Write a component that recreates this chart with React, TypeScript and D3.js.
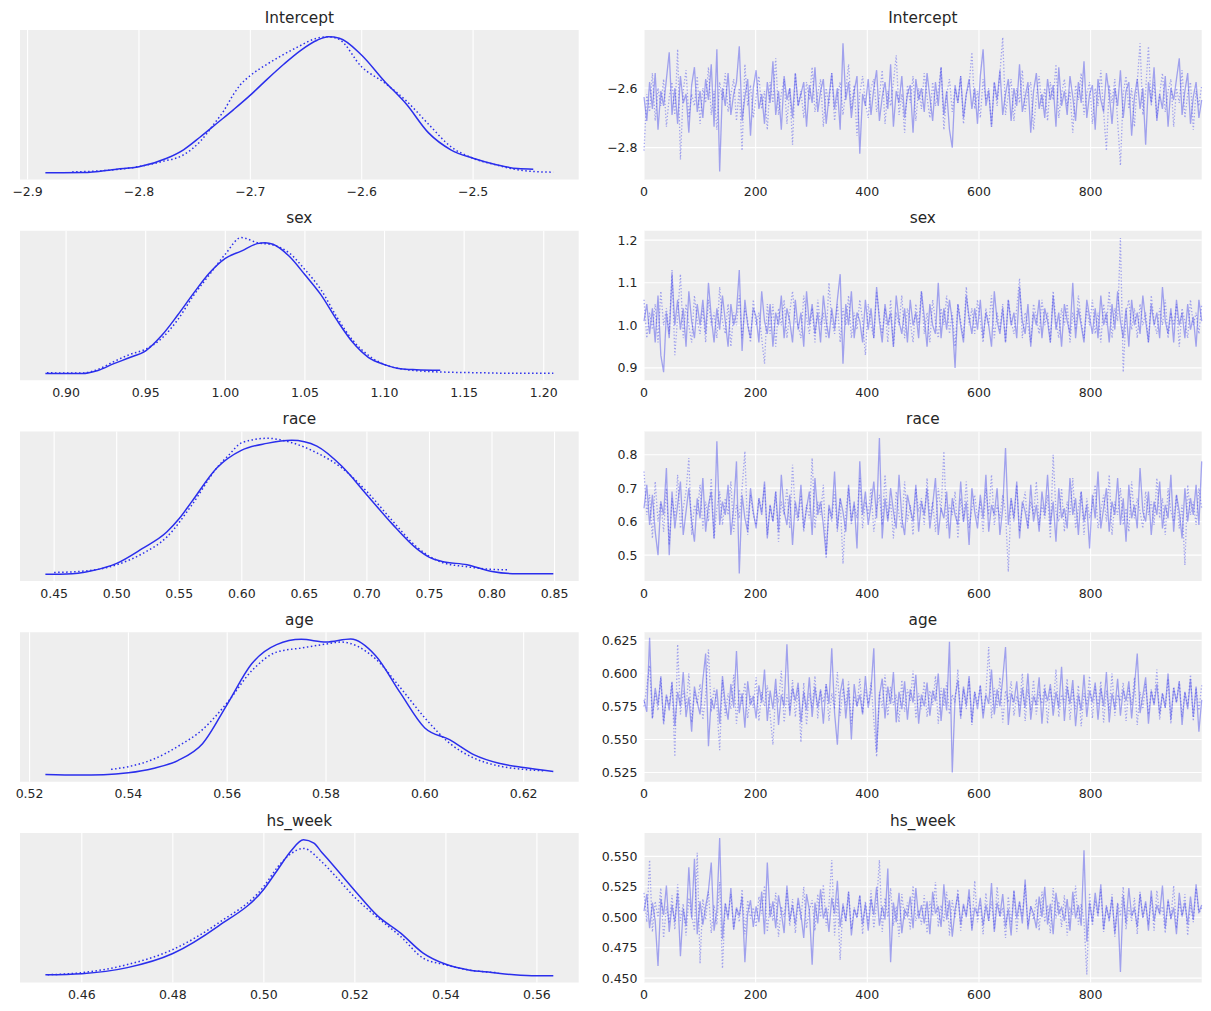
import React from "react";
import * as d3 from "d3";

// ---------- parameter names ----------
const paramNames = ["Intercept", "sex", "race", "age", "hs_week"];
const iterTicks = [0, 200, 400, 600, 800];

// ---------- KDE curves (x grid + relative density), chain 0 solid / chain 1 dotted ----------
const interceptKdeX1 = [-2.884, -2.85, -2.82, -2.8, -2.775, -2.76, -2.745, -2.73, -2.715, -2.7, -2.685, -2.67, -2.655, -2.64, -2.63, -2.62, -2.6, -2.58, -2.56, -2.54, -2.52, -2.5, -2.48, -2.46, -2.446];
const interceptKdeY1 = [0.01, 0.011, 0.036, 0.053, 0.115, 0.177, 0.27, 0.37, 0.47, 0.575, 0.69, 0.8, 0.9, 0.975, 1.0, 0.99, 0.866, 0.68, 0.51, 0.3, 0.177, 0.115, 0.07, 0.04, 0.036];
const interceptKdeX2 = [-2.86, -2.84, -2.82, -2.8, -2.78, -2.76, -2.745, -2.733, -2.724, -2.715, -2.709, -2.7, -2.685, -2.66, -2.64, -2.63, -2.62, -2.6, -2.58, -2.56, -2.54, -2.52, -2.5, -2.48, -2.46, -2.44, -2.428];
const interceptKdeY2 = [0.016, 0.021, 0.033, 0.055, 0.09, 0.14, 0.238, 0.361, 0.459, 0.583, 0.65, 0.718, 0.8, 0.915, 0.99, 1.0, 0.98, 0.78, 0.668, 0.533, 0.363, 0.2, 0.115, 0.068, 0.031, 0.016, 0.014];

const sexKdeX1 = [0.887, 0.9, 0.91, 0.92, 0.93, 0.94, 0.95, 0.96, 0.97, 0.98, 0.99, 1.0, 1.01, 1.02, 1.025, 1.03, 1.04, 1.05, 1.06, 1.07, 1.08, 1.09, 1.1, 1.11, 1.12, 1.135];
const sexKdeY1 = [0.017, 0.017, 0.017, 0.039, 0.088, 0.132, 0.181, 0.291, 0.438, 0.596, 0.743, 0.849, 0.902, 0.956, 0.963, 0.951, 0.866, 0.731, 0.587, 0.404, 0.242, 0.132, 0.081, 0.051, 0.044, 0.04];
const sexKdeX2 = [0.888, 0.9, 0.91, 0.92, 0.93, 0.94, 0.95, 0.96, 0.97, 0.98, 0.99, 1.0, 1.01, 1.02, 1.03, 1.04, 1.05, 1.06, 1.07, 1.08, 1.09, 1.1, 1.11, 1.12, 1.14, 1.16, 1.18, 1.206];
const sexKdeY2 = [0.022, 0.02, 0.02, 0.046, 0.103, 0.154, 0.193, 0.27, 0.404, 0.58, 0.731, 0.88, 1.0, 0.963, 0.946, 0.89, 0.768, 0.624, 0.426, 0.257, 0.147, 0.081, 0.051, 0.037, 0.026, 0.022, 0.018, 0.018];

const raceKdeX1 = [0.443, 0.46, 0.48, 0.5, 0.52, 0.54, 0.55, 0.56, 0.58, 0.6, 0.62, 0.64, 0.65, 0.66, 0.68, 0.7, 0.72, 0.74, 0.75, 0.76, 0.78, 0.8, 0.82, 0.849];
const raceKdeY1 = [0.011, 0.012, 0.036, 0.09, 0.195, 0.318, 0.416, 0.539, 0.784, 0.914, 0.963, 0.985, 0.975, 0.943, 0.796, 0.588, 0.379, 0.195, 0.134, 0.104, 0.08, 0.031, 0.014, 0.014];
const raceKdeX2 = [0.45, 0.47, 0.49, 0.5, 0.52, 0.54, 0.56, 0.58, 0.59, 0.6, 0.62, 0.64, 0.66, 0.68, 0.7, 0.72, 0.74, 0.76, 0.78, 0.8, 0.813];
const raceKdeY2 = [0.024, 0.031, 0.055, 0.08, 0.158, 0.281, 0.514, 0.784, 0.882, 0.968, 1.0, 0.968, 0.894, 0.784, 0.612, 0.404, 0.208, 0.097, 0.065, 0.046, 0.043];

const ageKdeX1 = [0.5232, 0.53, 0.535, 0.54, 0.545, 0.55, 0.555, 0.56, 0.565, 0.57, 0.575, 0.58, 0.585, 0.59, 0.595, 0.6, 0.605, 0.61, 0.615, 0.62, 0.626];
const ageKdeY1 = [0.004, 0.0, 0.002, 0.016, 0.048, 0.106, 0.23, 0.52, 0.82, 0.959, 0.998, 0.978, 1.0, 0.879, 0.606, 0.346, 0.26, 0.148, 0.086, 0.054, 0.026];
const ageKdeX2 = [0.5365, 0.54, 0.545, 0.55, 0.555, 0.56, 0.565, 0.57, 0.575, 0.58, 0.583, 0.59, 0.595, 0.6, 0.605, 0.61, 0.615, 0.62, 0.624];
const ageKdeY2 = [0.041, 0.061, 0.115, 0.21, 0.334, 0.532, 0.768, 0.904, 0.934, 0.963, 0.978, 0.855, 0.644, 0.42, 0.234, 0.123, 0.066, 0.041, 0.031];

const hsKdeX1 = [0.452, 0.46, 0.47, 0.48, 0.49, 0.5, 0.503, 0.506, 0.5087, 0.511, 0.5127, 0.5156, 0.52, 0.525, 0.53, 0.535, 0.54, 0.545, 0.55, 0.555, 0.56, 0.5636];
const hsKdeY1 = [0.016, 0.024, 0.068, 0.171, 0.371, 0.64, 0.78, 0.92, 1.0, 0.975, 0.91, 0.8, 0.629, 0.445, 0.321, 0.174, 0.092, 0.051, 0.033, 0.016, 0.009, 0.009];
const hsKdeX2 = [0.4525, 0.46, 0.47, 0.48, 0.49, 0.5, 0.503, 0.506, 0.5087, 0.5127, 0.5156, 0.52, 0.525, 0.53, 0.535, 0.54, 0.545, 0.5515];
const hsKdeY2 = [0.016, 0.031, 0.09, 0.2, 0.393, 0.66, 0.8, 0.9, 0.937, 0.84, 0.74, 0.58, 0.432, 0.297, 0.137, 0.088, 0.051, 0.031];

// ---------- traces (thinned draws over 1000 iterations) ----------
const interceptTrace1 = [
  -2.63,-2.71,-2.58,-2.67,-2.55,-2.74,-2.61,-2.66,-2.57,-2.48,-2.69,-2.60,-2.72,-2.56,-2.65,-2.62,-2.75,-2.59,-2.53,-2.68,
  -2.61,-2.70,-2.57,-2.64,-2.52,-2.73,-2.47,-2.88,-2.60,-2.66,-2.55,-2.69,-2.62,-2.58,-2.46,-2.71,-2.63,-2.57,-2.76,-2.60,
  -2.54,-2.67,-2.62,-2.72,-2.58,-2.65,-2.51,-2.69,-2.61,-2.74,-2.56,-2.64,-2.60,-2.70,-2.55,-2.66,-2.62,-2.58,-2.73,-2.59,
  -2.65,-2.53,-2.68,-2.61,-2.57,-2.72,-2.63,-2.55,-2.67,-2.60,-2.74,-2.45,-2.64,-2.58,-2.70,-2.61,-2.56,-2.82,-2.62,-2.66,
  -2.57,-2.69,-2.60,-2.54,-2.71,-2.63,-2.58,-2.67,-2.52,-2.73,-2.61,-2.65,-2.56,-2.70,-2.62,-2.59,-2.75,-2.57,-2.64,-2.60,
  -2.68,-2.55,-2.63,-2.71,-2.58,-2.66,-2.53,-2.69,-2.61,-2.74,-2.80,-2.59,-2.65,-2.56,-2.70,-2.62,-2.57,-2.67,-2.60,-2.72,
  -2.56,-2.47,-2.66,-2.61,-2.73,-2.58,-2.64,-2.54,-2.69,-2.62,-2.57,-2.71,-2.60,-2.66,-2.52,-2.68,-2.63,-2.58,-2.75,-2.61,
  -2.55,-2.67,-2.62,-2.70,-2.57,-2.64,-2.59,-2.73,-2.53,-2.66,-2.61,-2.69,-2.56,-2.63,-2.71,-2.58,-2.65,-2.51,-2.70,-2.62,
  -2.59,-2.74,-2.57,-2.64,-2.68,-2.55,-2.62,-2.72,-2.60,-2.66,-2.54,-2.70,-2.61,-2.58,-2.76,-2.63,-2.57,-2.67,-2.60,-2.79,
  -2.58,-2.65,-2.53,-2.71,-2.62,-2.67,-2.56,-2.73,-2.60,-2.64,-2.57,-2.50,-2.69,-2.61,-2.55,-2.72,-2.63,-2.58,-2.70,-2.64];
const interceptTrace2 = [
  -2.81,-2.62,-2.68,-2.55,-2.71,-2.60,-2.66,-2.57,-2.73,-2.63,-2.58,-2.69,-2.47,-2.84,-2.61,-2.54,-2.70,-2.62,-2.66,-2.56,
  -2.72,-2.60,-2.65,-2.53,-2.69,-2.61,-2.74,-2.58,-2.64,-2.55,-2.68,-2.62,-2.57,-2.71,-2.60,-2.81,-2.52,-2.66,-2.59,-2.70,
  -2.63,-2.56,-2.67,-2.61,-2.74,-2.58,-2.65,-2.50,-2.69,-2.62,-2.57,-2.72,-2.60,-2.79,-2.55,-2.66,-2.61,-2.70,-2.58,-2.64,
  -2.53,-2.68,-2.62,-2.57,-2.73,-2.60,-2.66,-2.55,-2.71,-2.63,-2.58,-2.69,-2.61,-2.52,-2.67,-2.59,-2.76,-2.62,-2.56,-2.65,
  -2.70,-2.60,-2.57,-2.68,-2.63,-2.54,-2.72,-2.61,-2.66,-2.58,-2.49,-2.69,-2.62,-2.75,-2.59,-2.65,-2.56,-2.71,-2.60,-2.67,
  -2.55,-2.63,-2.70,-2.58,-2.66,-2.61,-2.53,-2.74,-2.62,-2.57,-2.68,-2.60,-2.65,-2.56,-2.72,-2.62,-2.59,-2.48,-2.67,-2.61,
  -2.70,-2.57,-2.64,-2.60,-2.73,-2.58,-2.66,-2.55,-2.43,-2.69,-2.62,-2.57,-2.71,-2.60,-2.65,-2.54,-2.68,-2.61,-2.58,-2.74,
  -2.63,-2.56,-2.67,-2.60,-2.71,-2.58,-2.64,-2.52,-2.70,-2.62,-2.57,-2.66,-2.61,-2.75,-2.59,-2.64,-2.55,-2.69,-2.62,-2.58,
  -2.72,-2.60,-2.66,-2.54,-2.68,-2.81,-2.59,-2.65,-2.57,-2.71,-2.86,-2.62,-2.56,-2.67,-2.60,-2.73,-2.58,-2.45,-2.69,-2.61,
  -2.46,-2.66,-2.58,-2.70,-2.62,-2.55,-2.68,-2.61,-2.57,-2.73,-2.60,-2.65,-2.54,-2.70,-2.62,-2.58,-2.74,-2.61,-2.66,-2.59];

const sexTrace1 = [
  1.01,1.05,0.98,1.04,0.96,1.07,0.93,0.89,1.03,0.97,1.12,1.00,1.06,0.99,1.04,0.95,1.08,1.01,0.97,1.05,
  1.00,1.06,0.98,1.10,1.02,0.96,1.04,0.99,1.07,1.01,0.95,1.05,1.00,1.03,1.13,0.94,1.06,1.00,0.97,1.04,
  1.02,0.96,1.08,1.01,0.98,1.05,0.95,1.03,1.00,1.07,0.97,1.04,1.01,0.96,1.06,0.99,1.03,0.95,1.08,1.00,
  1.05,0.98,1.03,0.96,1.07,1.01,0.97,1.04,0.99,1.06,1.12,0.91,1.05,1.00,1.08,0.97,1.03,1.01,0.96,1.06,
  0.99,1.04,0.97,1.09,1.01,0.96,1.05,1.00,1.03,0.95,1.07,1.01,0.98,1.04,0.96,1.06,1.00,1.03,0.97,1.08,
  1.02,0.95,1.05,1.00,0.98,1.10,0.97,1.04,0.99,1.06,1.01,0.90,1.05,1.00,0.96,1.07,1.02,0.98,1.04,0.99,
  1.06,0.97,1.03,1.00,0.95,1.08,1.01,0.98,1.04,0.96,1.06,1.00,1.03,0.97,1.09,1.01,0.98,1.05,0.95,1.03,
  1.00,1.06,0.97,1.04,1.01,0.96,1.07,0.99,1.03,0.95,1.05,1.01,0.98,1.10,0.97,1.04,1.00,0.96,1.06,1.02,
  0.98,1.04,0.97,1.07,1.00,1.03,0.96,1.05,0.99,1.08,1.01,0.97,1.04,0.95,1.06,1.00,1.03,0.98,1.07,1.01,
  0.96,1.05,1.00,1.03,0.97,1.09,1.01,0.98,1.04,0.96,1.06,1.00,1.03,0.97,1.05,0.99,1.02,0.95,1.06,1.01];
const sexTrace2 = [
  1.06,0.97,1.03,0.99,1.05,0.96,1.08,1.00,1.04,0.98,1.13,0.93,1.02,1.12,0.97,1.05,1.00,0.96,1.07,1.01,
  0.98,1.04,0.96,1.06,1.00,1.03,0.97,1.09,1.01,0.98,1.05,0.95,1.03,1.00,1.07,0.97,1.04,1.01,0.96,1.06,
  1.00,1.03,0.97,0.91,1.05,0.98,1.05,0.95,1.04,1.00,1.06,0.97,1.03,1.08,1.01,1.00,0.97,1.07,1.02,0.98,
  1.04,0.96,1.06,1.00,1.03,0.97,1.10,1.01,0.98,1.05,0.96,1.04,1.00,1.07,0.97,1.03,0.99,1.06,1.01,0.93,
  1.05,1.00,0.97,1.08,1.02,0.98,1.04,0.96,1.06,0.95,1.03,1.00,1.07,0.97,1.04,1.01,0.96,1.05,1.00,1.08,
  0.98,1.03,0.96,1.06,1.01,0.97,1.04,1.00,1.07,0.98,1.03,0.95,1.05,1.01,0.97,1.09,1.00,1.04,0.98,1.06,
  1.01,0.96,1.04,1.00,1.07,0.97,1.03,0.99,1.05,0.96,1.06,1.01,0.98,1.04,1.11,0.97,1.03,1.00,0.96,1.05,
  1.02,0.98,1.06,1.00,1.03,0.96,1.08,1.01,0.97,1.04,1.00,1.05,0.96,1.03,0.99,1.07,1.01,0.97,1.04,1.00,
  1.06,0.98,1.03,0.96,1.05,1.00,1.08,0.97,1.04,1.01,1.205,0.89,1.03,1.06,0.99,1.04,0.97,1.05,1.00,1.03,
  0.96,1.07,1.01,0.98,1.04,1.00,1.06,0.97,1.03,1.00,1.05,0.95,1.04,1.01,0.97,1.06,1.00,1.03,0.98,1.05];

const raceTrace1 = [
  0.64,0.71,0.59,0.68,0.57,0.50,0.66,0.62,0.76,0.50,0.69,0.58,0.65,0.72,0.56,0.63,0.70,0.60,0.54,0.67,
  0.61,0.73,0.57,0.65,0.69,0.55,0.84,0.59,0.66,0.62,0.71,0.56,0.64,0.78,0.445,0.68,0.61,0.57,0.70,0.63,
  0.58,0.67,0.62,0.72,0.55,0.65,0.60,0.69,0.57,0.74,0.63,0.59,0.68,0.53,0.66,0.61,0.71,0.58,0.64,0.69,
  0.56,0.73,0.62,0.66,0.59,0.50,0.65,0.61,0.75,0.58,0.67,0.63,0.57,0.71,0.60,0.66,0.52,0.78,0.62,0.69,
  0.59,0.65,0.72,0.61,0.85,0.55,0.67,0.60,0.70,0.63,0.58,0.74,0.61,0.56,0.68,0.64,0.60,0.71,0.57,0.66,
  0.62,0.70,0.58,0.65,0.73,0.56,0.64,0.61,0.69,0.55,0.67,0.62,0.59,0.72,0.60,0.66,0.53,0.70,0.63,0.58,
  0.68,0.61,0.74,0.57,0.65,0.62,0.70,0.56,0.64,0.82,0.59,0.67,0.61,0.72,0.55,0.66,0.63,0.58,0.71,0.60,
  0.65,0.57,0.69,0.62,0.74,0.59,0.66,0.54,0.70,0.61,0.64,0.58,0.73,0.62,0.67,0.56,0.69,0.60,0.65,0.52,
  0.68,0.61,0.75,0.58,0.64,0.70,0.57,0.66,0.62,0.73,0.59,0.67,0.54,0.71,0.61,0.65,0.58,0.76,0.63,0.60,
  0.69,0.56,0.66,0.62,0.72,0.58,0.65,0.61,0.74,0.57,0.68,0.63,0.55,0.70,0.60,0.67,0.62,0.71,0.59,0.78];
const raceTrace2 = [
  0.75,0.62,0.68,0.55,0.72,0.60,0.66,0.57,0.70,0.53,0.67,0.61,0.74,0.58,0.64,0.69,0.79,0.56,0.65,0.62,
  0.71,0.58,0.66,0.60,0.73,0.55,0.64,0.69,0.59,0.67,0.62,0.72,0.57,0.65,0.61,0.70,0.81,0.56,0.68,0.62,
  0.59,0.67,0.63,0.71,0.56,0.65,0.60,0.69,0.54,0.66,0.62,0.70,0.58,0.77,0.63,0.60,0.68,0.57,0.65,0.61,
  0.79,0.58,0.66,0.62,0.71,0.49,0.64,0.60,0.69,0.57,0.67,0.474,0.63,0.70,0.59,0.65,0.61,0.73,0.58,0.66,
  0.62,0.70,0.57,0.64,0.68,0.59,0.74,0.61,0.66,0.55,0.69,0.62,0.58,0.72,0.60,0.65,0.56,0.70,0.63,0.67,
  0.59,0.73,0.61,0.66,0.57,0.70,0.63,0.81,0.58,0.65,0.62,0.69,0.55,0.67,0.60,0.72,0.58,0.64,0.68,0.61,
  0.66,0.57,0.70,0.62,0.74,0.59,0.65,0.61,0.68,0.63,0.45,0.67,0.60,0.71,0.57,0.64,0.69,0.58,0.66,0.62,
  0.72,0.59,0.65,0.61,0.68,0.55,0.80,0.63,0.60,0.70,0.57,0.66,0.62,0.73,0.58,0.64,0.69,0.56,0.67,0.61,
  0.65,0.71,0.58,0.63,0.68,0.60,0.74,0.56,0.66,0.62,0.70,0.59,0.64,0.57,0.72,0.61,0.67,0.63,0.58,0.69,
  0.62,0.66,0.59,0.73,0.61,0.67,0.56,0.70,0.63,0.60,0.68,0.58,0.65,0.47,0.71,0.62,0.66,0.59,0.70,0.64];

const ageTrace1 = [
  0.580,0.571,0.627,0.566,0.589,0.576,0.597,0.563,0.584,0.572,0.593,0.560,0.586,0.575,0.601,0.567,0.582,0.556,0.590,0.578,
  0.569,0.595,0.615,0.545,0.581,0.573,0.588,0.562,0.598,0.577,0.565,0.592,0.574,0.617,0.570,0.585,0.559,0.594,0.576,0.583,
  0.566,0.591,0.578,0.603,0.564,0.587,0.573,0.596,0.561,0.584,0.575,0.622,0.568,0.589,0.579,0.593,0.563,0.586,0.572,0.597,
  0.567,0.590,0.574,0.588,0.562,0.592,0.577,0.619,0.570,0.546,0.585,0.596,0.566,0.589,0.550,0.592,0.575,0.584,0.569,0.598,
  0.574,0.588,0.619,0.541,0.583,0.596,0.566,0.590,0.577,0.601,0.563,0.586,0.573,0.594,0.565,0.588,0.578,0.599,0.562,0.584,
  0.575,0.593,0.568,0.587,0.579,0.600,0.564,0.589,0.572,0.624,0.525,0.582,0.595,0.567,0.590,0.576,0.598,0.563,0.586,0.573,
  0.591,0.566,0.584,0.577,0.603,0.569,0.588,0.575,0.596,0.620,0.561,0.585,0.578,0.594,0.567,0.589,0.574,0.600,0.565,0.583,
  0.576,0.597,0.562,0.588,0.579,0.592,0.568,0.586,0.574,0.605,0.564,0.590,0.577,0.595,0.560,0.584,0.572,0.599,0.567,0.587,
  0.578,0.593,0.565,0.589,0.575,0.601,0.563,0.585,0.573,0.596,0.568,0.588,0.579,0.594,0.566,0.590,0.615,0.570,0.583,0.597,
  0.562,0.587,0.576,0.592,0.569,0.585,0.574,0.600,0.565,0.589,0.578,0.594,0.561,0.586,0.573,0.596,0.567,0.590,0.556,0.580];
const ageTrace2 = [
  0.575,0.590,0.606,0.566,0.585,0.572,0.598,0.561,0.583,0.576,0.594,0.537,0.622,0.569,0.587,0.574,0.600,0.563,0.586,0.577,
  0.592,0.565,0.584,0.618,0.571,0.589,0.576,0.542,0.595,0.568,0.585,0.573,0.599,0.562,0.588,0.577,0.593,0.566,0.583,0.574,
  0.597,0.564,0.586,0.575,0.591,0.569,0.546,0.588,0.578,0.602,0.563,0.584,0.572,0.595,0.567,0.589,0.548,0.593,0.561,0.585,
  0.574,0.598,0.566,0.587,0.578,0.592,0.564,0.585,0.573,0.601,0.568,0.589,0.576,0.594,0.562,0.583,0.575,0.596,0.570,0.588,
  0.577,0.593,0.565,0.537,0.586,0.574,0.599,0.568,0.590,0.576,0.584,0.563,0.595,0.571,0.588,0.579,0.602,0.566,0.585,0.573,
  0.594,0.567,0.587,0.576,0.598,0.562,0.589,0.575,0.593,0.569,0.584,0.578,0.603,0.565,0.588,0.573,0.596,0.561,0.586,0.577,
  0.591,0.570,0.585,0.620,0.566,0.589,0.574,0.597,0.563,0.587,0.578,0.594,0.568,0.583,0.575,0.600,0.564,0.588,0.572,0.595,
  0.569,0.586,0.577,0.592,0.562,0.589,0.574,0.603,0.567,0.584,0.578,0.596,0.565,0.588,0.573,0.591,0.560,0.585,0.576,0.598,
  0.566,0.590,0.575,0.594,0.563,0.587,0.572,0.600,0.568,0.584,0.579,0.593,0.564,0.589,0.576,0.597,0.561,0.586,0.573,0.592,
  0.569,0.588,0.577,0.603,0.565,0.585,0.574,0.596,0.562,0.590,0.578,0.594,0.567,0.586,0.575,0.599,0.564,0.589,0.572,0.591];

const hsTrace1 = [
  0.505,0.519,0.491,0.512,0.497,0.460,0.515,0.502,0.526,0.488,0.510,0.496,0.520,0.468,0.507,0.493,0.541,0.499,0.548,0.486,
  0.513,0.494,0.509,0.522,0.545,0.489,0.506,0.565,0.482,0.511,0.498,0.524,0.490,0.508,0.501,0.517,0.463,0.503,0.514,0.492,
  0.509,0.496,0.521,0.486,0.545,0.500,0.513,0.491,0.518,0.504,0.487,0.526,0.497,0.510,0.494,0.516,0.502,0.483,0.519,0.506,
  0.461,0.512,0.495,0.523,0.499,0.508,0.488,0.516,0.503,0.530,0.492,0.510,0.497,0.521,0.485,0.507,0.500,0.518,0.494,0.511,
  0.489,0.515,0.502,0.525,0.493,0.509,0.498,0.540,0.463,0.512,0.496,0.520,0.487,0.506,0.501,0.517,0.491,0.524,0.499,0.510,
  0.495,0.513,0.486,0.521,0.503,0.509,0.492,0.527,0.498,0.514,0.484,0.506,0.519,0.494,0.511,0.500,0.523,0.489,0.508,0.502,
  0.516,0.493,0.510,0.497,0.528,0.488,0.512,0.501,0.519,0.492,0.507,0.485,0.522,0.499,0.513,0.495,0.531,0.490,0.509,0.503,
  0.491,0.517,0.500,0.525,0.494,0.511,0.486,0.520,0.503,0.508,0.497,0.515,0.489,0.521,0.499,0.510,0.493,0.555,0.480,0.512,
  0.496,0.520,0.502,0.527,0.490,0.509,0.498,0.516,0.487,0.511,0.455,0.518,0.495,0.524,0.501,0.507,0.492,0.519,0.500,0.513,
  0.489,0.522,0.497,0.510,0.503,0.526,0.491,0.514,0.499,0.508,0.486,0.520,0.501,0.512,0.494,0.517,0.498,0.527,0.504,0.510];
const hsTrace2 = [
  0.520,0.496,0.547,0.488,0.513,0.500,0.524,0.483,0.509,0.495,0.518,0.490,0.527,0.497,0.511,0.485,0.516,0.502,0.489,0.553,
  0.462,0.515,0.498,0.521,0.487,0.510,0.494,0.529,0.458,0.512,0.501,0.519,0.490,0.507,0.496,0.523,0.486,0.514,0.499,0.508,
  0.492,0.517,0.503,0.526,0.488,0.511,0.497,0.520,0.484,0.509,0.500,0.522,0.493,0.515,0.487,0.512,0.498,0.525,0.491,0.506,
  0.514,0.489,0.519,0.500,0.527,0.493,0.510,0.547,0.485,0.516,0.465,0.512,0.496,0.521,0.490,0.508,0.499,0.518,0.486,0.513,
  0.495,0.522,0.491,0.511,0.547,0.488,0.516,0.500,0.524,0.493,0.509,0.484,0.519,0.498,0.512,0.490,0.526,0.497,0.506,0.494,
  0.518,0.487,0.513,0.501,0.529,0.492,0.510,0.496,0.521,0.485,0.514,0.499,0.523,0.489,0.508,0.503,0.517,0.491,0.530,0.496,
  0.511,0.486,0.520,0.497,0.513,0.490,0.525,0.500,0.508,0.483,0.517,0.494,0.522,0.488,0.512,0.501,0.527,0.493,0.509,0.498,
  0.515,0.489,0.521,0.496,0.510,0.487,0.524,0.499,0.513,0.492,0.518,0.485,0.507,0.502,0.526,0.494,0.511,0.497,0.453,0.520,
  0.493,0.514,0.500,0.523,0.488,0.510,0.496,0.519,0.484,0.512,0.501,0.525,0.490,0.508,0.497,0.516,0.486,0.521,0.499,0.511,
  0.494,0.517,0.489,0.522,0.502,0.509,0.487,0.515,0.498,0.526,0.491,0.512,0.500,0.519,0.485,0.510,0.496,0.524,0.503,0.508];

// ---------- tick values ----------
const interceptKdeTicks = [-2.9, -2.8, -2.7, -2.6, -2.5];
const interceptTraceTicks = [-2.8, -2.6];
const sexKdeTicks = [0.9, 0.95, 1.0, 1.05, 1.1, 1.15, 1.2];
const sexTraceTicks = [0.9, 1.0, 1.1, 1.2];
const raceKdeTicks = [0.45, 0.5, 0.55, 0.6, 0.65, 0.7, 0.75, 0.8, 0.85];
const raceTraceTicks = [0.5, 0.6, 0.7, 0.8];
const ageKdeTicks = [0.52, 0.54, 0.56, 0.58, 0.6, 0.62];
const ageTraceTicks = [0.525, 0.55, 0.575, 0.6, 0.625];
const hsKdeTicks = [0.46, 0.48, 0.5, 0.52, 0.54, 0.56];
const hsTraceTicks = [0.45, 0.475, 0.5, 0.525, 0.55];

const panels = [
  { name: paramNames[0], kx1: interceptKdeX1, ky1: interceptKdeY1, kx2: interceptKdeX2, ky2: interceptKdeY2, t1: interceptTrace1, t2: interceptTrace2, kTicks: interceptKdeTicks, tTicks: interceptTraceTicks, kFmt: ".1f", tFmt: ".1f" },
  { name: paramNames[1], kx1: sexKdeX1, ky1: sexKdeY1, kx2: sexKdeX2, ky2: sexKdeY2, t1: sexTrace1, t2: sexTrace2, kTicks: sexKdeTicks, tTicks: sexTraceTicks, kFmt: ".2f", tFmt: ".1f" },
  { name: paramNames[2], kx1: raceKdeX1, ky1: raceKdeY1, kx2: raceKdeX2, ky2: raceKdeY2, t1: raceTrace1, t2: raceTrace2, kTicks: raceKdeTicks, tTicks: raceTraceTicks, kFmt: ".2f", tFmt: ".1f" },
  { name: paramNames[3], kx1: ageKdeX1, ky1: ageKdeY1, kx2: ageKdeX2, ky2: ageKdeY2, t1: ageTrace1, t2: ageTrace2, kTicks: ageKdeTicks, tTicks: ageTraceTicks, kFmt: ".2f", tFmt: ".3f" },
  { name: paramNames[4], kx1: hsKdeX1, ky1: hsKdeY1, kx2: hsKdeX2, ky2: hsKdeY2, t1: hsTrace1, t2: hsTrace2, kTicks: hsKdeTicks, tTicks: hsTraceTicks, kFmt: ".2f", tFmt: ".3f" },
];

const W = 1211;
const H = 1011;
const LX0 = 20, LX1 = 578.7;
const RX0 = 644, RX1 = 1201.7;
const TOP0 = 30, PITCH = 200.75, PH = 149.5;
const COLOR = "#2a2eec";
const BG = "#eeeeee";
const TEXT = "#262626";
const FONT = "DejaVu Sans, sans-serif";
const N_ITER = 1000;

function pad(lo: number, hi: number) {
  const r = hi - lo;
  return [lo - 0.05 * r, hi + 0.05 * r];
}

function Row({ p, r }: any) {
  const top = TOP0 + r * PITCH;
  const bottom = top + PH;
  const allX = [...p.kx1, ...p.kx2];
  const dom = pad(d3.min(allX) as number, d3.max(allX) as number);
  const allY = [...p.ky1, ...p.ky2];
  const yDom = pad(d3.min(allY) as number, d3.max(allY) as number);

  const xk = d3.scaleLinear().domain(dom).range([LX0, LX1]);
  const yk = d3.scaleLinear().domain(yDom).range([bottom, top]);
  const xt = d3.scaleLinear().domain([0, N_ITER - 1]).range([RX0, RX1]);
  const yt = d3.scaleLinear().domain(dom).range([bottom, top]);

  const kdeLine = (xs: number[], ys: number[]) =>
    d3.line<number>().x((_, i) => xk(xs[i])).y((v) => yk(v)).curve(d3.curveMonotoneX)(ys) || "";
  const traceLine = (vals: number[]) =>
    d3.line<number>().x((_, i) => xt((i * (N_ITER - 1)) / (vals.length - 1))).y((v) => yt(v))(vals) || "";

  const kf = d3.format(p.kFmt);
  const tf = d3.format(p.tFmt);

  return (
    <g>
      {/* left KDE panel */}
      <rect x={LX0} y={top} width={LX1 - LX0} height={PH} fill={BG} />
      {p.kTicks.map((t: number) => (
        <line key={"kg" + t} x1={xk(t)} x2={xk(t)} y1={top} y2={bottom} stroke="#ffffff" strokeWidth={1.1} />
      ))}
      <path d={kdeLine(p.kx1, p.ky1)} fill="none" stroke={COLOR} strokeWidth={1.5} />
      <path d={kdeLine(p.kx2, p.ky2)} fill="none" stroke={COLOR} strokeWidth={1.5} strokeDasharray="1.5,2.5" />
      {p.kTicks.map((t: number) => (
        <text key={"kt" + t} x={xk(t)} y={bottom + 16.5} textAnchor="middle" fontSize={12.5} fill={TEXT} fontFamily={FONT}>
          {kf(t)}
        </text>
      ))}
      <text x={(LX0 + LX1) / 2} y={top - 7.3} textAnchor="middle" fontSize={15.3} fill={TEXT} fontFamily={FONT}>
        {p.name}
      </text>

      {/* right trace panel */}
      <rect x={RX0} y={top} width={RX1 - RX0} height={PH} fill={BG} />
      {iterTicks.map((t) => (
        <line key={"tgx" + t} x1={xt(t)} x2={xt(t)} y1={top} y2={bottom} stroke="#ffffff" strokeWidth={1.1} />
      ))}
      {p.tTicks.map((t: number) => (
        <line key={"tgy" + t} x1={RX0} x2={RX1} y1={yt(t)} y2={yt(t)} stroke="#ffffff" strokeWidth={1.1} />
      ))}
      <path d={traceLine(p.t1)} fill="none" stroke={COLOR} strokeOpacity={0.4} strokeWidth={1.3} />
      <path d={traceLine(p.t2)} fill="none" stroke={COLOR} strokeOpacity={0.4} strokeWidth={1.3} strokeDasharray="1.3,2" />
      {iterTicks.map((t) => (
        <text key={"tx" + t} x={xt(t)} y={bottom + 16.5} textAnchor="middle" fontSize={12.5} fill={TEXT} fontFamily={FONT}>
          {t}
        </text>
      ))}
      {p.tTicks.map((t: number) => (
        <text key={"ty" + t} x={RX0 - 6.5} y={yt(t) + 4.5} textAnchor="end" fontSize={12.5} fill={TEXT} fontFamily={FONT}>
          {tf(t)}
        </text>
      ))}
      <text x={(RX0 + RX1) / 2} y={top - 7.3} textAnchor="middle" fontSize={15.3} fill={TEXT} fontFamily={FONT}>
        {p.name}
      </text>
    </g>
  );
}

export default function App() {
  return (
    <svg width={W} height={H} style={{ position: "absolute", left: 0, top: 0, background: "#ffffff" }}>
      <rect x={0} y={0} width={W} height={H} fill="#ffffff" />
      {panels.map((p, r) => (
        <Row key={p.name} p={p} r={r} />
      ))}
    </svg>
  );
}
